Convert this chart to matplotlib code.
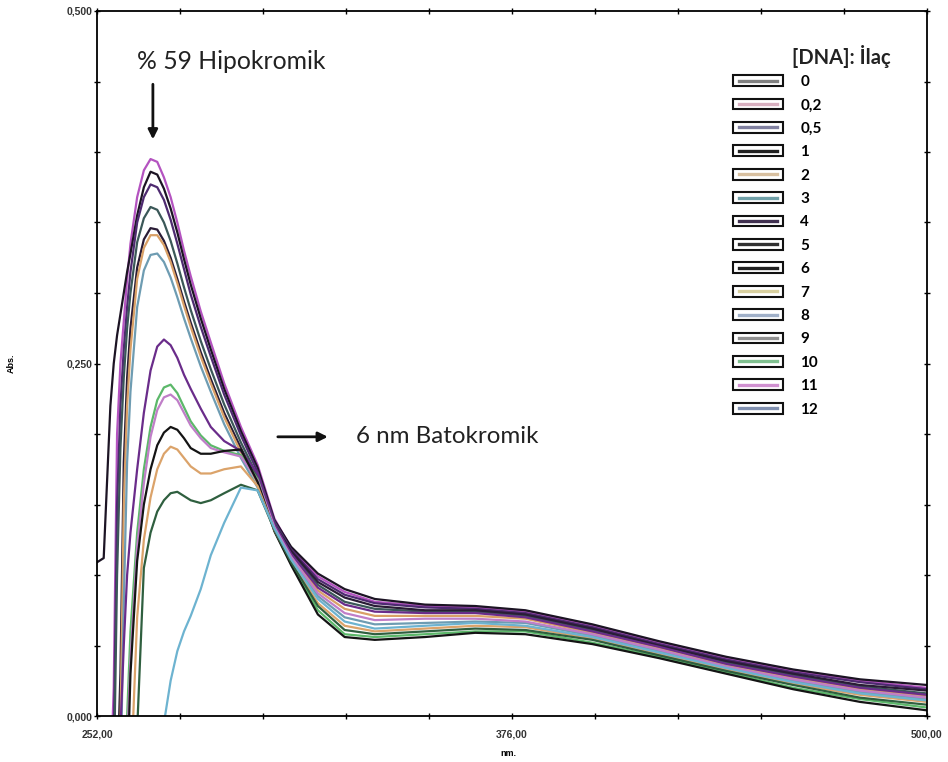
import matplotlib
matplotlib.use("Agg")
import matplotlib.pyplot as plt
from matplotlib.lines import Line2D
from matplotlib.patches import Rectangle
from matplotlib.legend_handler import HandlerBase
from matplotlib.ticker import FixedLocator
import numpy as np

# ---------------- data ----------------
wavelength = [252, 254, 256, 257, 258, 259, 260, 261, 262, 264, 266, 268, 270, 272,
              274, 276, 278, 280, 283, 286, 290, 295, 300, 305,
              310, 318, 326, 335, 350, 365, 380, 400, 420, 440, 460, 480, 500]

curve_a = [-0.05, -0.05, -0.05, 0.02, 0.20, 0.25, 0.28, 0.31, 0.335, 0.368, 0.387, 0.395, 0.393, 0.382,
           0.368, 0.350, 0.330, 0.312, 0.287, 0.265, 0.236, 0.205, 0.178, 0.140,
           0.119, 0.099, 0.088, 0.081, 0.078, 0.077, 0.074, 0.064, 0.052, 0.041, 0.032, 0.025, 0.020]
curve_b = [0.109, 0.112, 0.22, 0.25, 0.27, 0.285, 0.30, 0.315, 0.328, 0.355, 0.375, 0.386, 0.384, 0.374,
           0.360, 0.343, 0.324, 0.306, 0.282, 0.260, 0.232, 0.202, 0.176, 0.139,
           0.120, 0.101, 0.090, 0.083, 0.079, 0.078, 0.075, 0.065, 0.053, 0.042, 0.033, 0.026, 0.022]
curve_c = [-0.05, -0.05, -0.05, -0.02, 0.15, 0.22, 0.26, 0.29, 0.315, 0.350, 0.368, 0.377, 0.375, 0.366,
           0.352, 0.335, 0.317, 0.299, 0.276, 0.255, 0.228, 0.199, 0.173, 0.138,
           0.118, 0.097, 0.086, 0.080, 0.077, 0.076, 0.073, 0.063, 0.051, 0.040, 0.031, 0.024, 0.019]
curve_d = [-0.05, -0.05, -0.05, -0.05, 0.10, 0.19, 0.24, 0.275, 0.30, 0.336, 0.353, 0.361, 0.359, 0.350,
           0.337, 0.321, 0.304, 0.288, 0.266, 0.246, 0.221, 0.194, 0.170, 0.137,
           0.116, 0.093, 0.081, 0.076, 0.074, 0.074, 0.071, 0.061, 0.049, 0.038, 0.029, 0.021, 0.016]
curve_e = [-0.05, -0.05, -0.05, -0.05, -0.05, 0.03, 0.18, 0.24, 0.275, 0.318, 0.338, 0.346, 0.345, 0.337,
           0.325, 0.310, 0.294, 0.279, 0.258, 0.239, 0.215, 0.190, 0.167, 0.136,
           0.117, 0.095, 0.084, 0.078, 0.075, 0.075, 0.072, 0.062, 0.050, 0.039, 0.030, 0.022, 0.018]
curve_f = [-0.05, -0.05, -0.05, -0.05, -0.05, -0.01, 0.15, 0.22, 0.26, 0.310, 0.332, 0.341, 0.341, 0.334,
           0.322, 0.307, 0.291, 0.276, 0.255, 0.236, 0.212, 0.187, 0.165, 0.135,
           0.114, 0.089, 0.076, 0.071, 0.071, 0.071, 0.069, 0.059, 0.048, 0.036, 0.027, 0.019, 0.014]
curve_g = [-0.05, -0.05, -0.05, -0.05, -0.05, -0.05, 0.08, 0.18, 0.23, 0.290, 0.316, 0.327, 0.328, 0.322,
           0.311, 0.297, 0.282, 0.268, 0.248, 0.230, 0.207, 0.183, 0.162, 0.134,
           0.112, 0.085, 0.070, 0.065, 0.066, 0.067, 0.066, 0.057, 0.046, 0.035, 0.025, 0.017, 0.012]
curve_p = [-0.05, -0.05, -0.05, -0.05, -0.05, -0.01, 0.05, 0.10, 0.13, 0.175, 0.215, 0.245, 0.262, 0.267,
           0.263, 0.254, 0.242, 0.232, 0.218, 0.205, 0.195, 0.188, 0.172, 0.136,
           0.115, 0.091, 0.079, 0.074, 0.073, 0.073, 0.070, 0.060, 0.049, 0.037, 0.028, 0.020, 0.015]
curve_q = [-0.05, -0.05, -0.05, -0.05, -0.05, -0.05, -0.05, 0.0, 0.06, 0.130, 0.175, 0.205, 0.224, 0.233,
           0.235, 0.229, 0.219, 0.209, 0.199, 0.192, 0.188, 0.185, 0.168, 0.132,
           0.108, 0.075, 0.058, 0.056, 0.058, 0.060, 0.060, 0.052, 0.042, 0.031, 0.020, 0.012, 0.006]
curve_r = [-0.05, -0.05, -0.05, -0.05, -0.05, -0.05, -0.05, -0.02, 0.04, 0.120, 0.165, 0.198, 0.217, 0.226,
           0.228, 0.224, 0.215, 0.206, 0.197, 0.190, 0.187, 0.184, 0.167, 0.134,
           0.113, 0.087, 0.073, 0.068, 0.069, 0.069, 0.067, 0.058, 0.047, 0.035, 0.026, 0.018, 0.013]
curve_s = [-0.05, -0.05, -0.05, -0.05, -0.05, -0.05, -0.05, -0.05, 0.03, 0.110, 0.150, 0.175, 0.192, 0.201,
           0.205, 0.203, 0.197, 0.190, 0.186, 0.186, 0.188, 0.189, 0.166, 0.131,
           0.107, 0.072, 0.056, 0.054, 0.056, 0.059, 0.058, 0.051, 0.041, 0.030, 0.019, 0.010, 0.004]
curve_t = [-0.05, -0.05, -0.05, -0.05, -0.05, -0.05, -0.05, -0.05, -0.05, 0.070, 0.125, 0.155, 0.175, 0.186,
           0.191, 0.189, 0.183, 0.177, 0.172, 0.172, 0.175, 0.177, 0.163, 0.132,
           0.110, 0.080, 0.064, 0.060, 0.062, 0.064, 0.063, 0.055, 0.044, 0.033, 0.023, 0.015, 0.010]
curve_u = [-0.05, -0.05, -0.05, -0.05, -0.05, -0.05, -0.05, -0.05, -0.05, -0.01, 0.105, 0.130, 0.145, 0.153,
           0.158, 0.159, 0.156, 0.153, 0.151, 0.153, 0.158, 0.164, 0.160, 0.132,
           0.109, 0.078, 0.061, 0.058, 0.060, 0.062, 0.061, 0.054, 0.043, 0.032, 0.022, 0.013, 0.008]
curve_v = [-0.05, -0.05, -0.05, -0.05, -0.05, -0.05, -0.05, -0.05, -0.05, -0.05, -0.05, -0.05, -0.05, -0.005,
           0.025, 0.046, 0.060, 0.071, 0.090, 0.114, 0.137, 0.162, 0.160, 0.133,
           0.111, 0.083, 0.067, 0.062, 0.064, 0.066, 0.064, 0.056, 0.045, 0.034, 0.024, 0.016, 0.011]

curves = [curve_a, curve_b, curve_c, curve_d, curve_e, curve_f, curve_g,
          curve_p, curve_q, curve_r, curve_s, curve_t, curve_u, curve_v]
curve_colors = ['#b453c0', '#1c1424', '#4e2a70', '#3b5858', '#2a1c36', '#d9a066', '#6e9cb2',
                '#6a2c8a', '#5cb86a', '#c07ec8', '#141414', '#dba36a', '#2f5f3f', '#6db3d0']

legend_labels = ['0', '0,2', '0,5', '1', '2', '3', '4', '5', '6', '7', '8', '9', '10', '11', '12']
legend_colors = ['#808080', '#d8b0c0', '#8080a0', '#202020', '#d8c0a0', '#70a0a8', '#403050',
                 '#303030', '#202020', '#d8d0a0', '#a0b0c8', '#909090', '#80c090', '#d090d0', '#8090b0']

x_tick_labels = ['252,00', '376,00', '500,00']
y_tick_labels = ['0,000', '0,250', '0,500']

# ---------------- figure ----------------
W, H = 948, 762
fig = plt.figure(figsize=(W / 100, H / 100), dpi=100)
ax = fig.add_axes([97 / W, 1 - 716 / H, 830 / W, 705 / H])

for ys, c in zip(curves, curve_colors):
    ax.plot(wavelength, ys, color=c, lw=1.6, solid_joinstyle='round')

ax.set_xlim(252, 500)
ax.set_ylim(0, 0.5)

ax.xaxis.set_major_locator(FixedLocator([252, 376, 500]))
ax.xaxis.set_minor_locator(FixedLocator(list(np.linspace(252, 500, 11))))
ax.yaxis.set_major_locator(FixedLocator([0, 0.25, 0.5]))
ax.yaxis.set_minor_locator(FixedLocator(list(np.linspace(0, 0.5, 11))))
ax.set_xticklabels(x_tick_labels)
ax.set_yticklabels(y_tick_labels)
ax.tick_params(which='both', direction='inout', length=4, width=1.0, top=True, right=True)
ax.tick_params(axis='both', labelsize=7.5)
for lab in ax.get_xticklabels() + ax.get_yticklabels():
    lab.set_fontfamily('Liberation Sans')
    lab.set_fontweight('bold')
    lab.set_color('#333333')
ax.tick_params(axis='x', pad=8)
ax.tick_params(axis='y', pad=1)
for sp in ax.spines.values():
    sp.set_linewidth(1.3)

ax.set_xlabel('nm.', fontsize=6.5, fontweight='bold', family='Liberation Sans')
ax.xaxis.set_label_coords(0.496, -0.047)
ax.set_ylabel('Abs.', fontsize=6.5, fontweight='bold', family='Liberation Sans')
ax.yaxis.set_label_coords(-0.098, 0.5)

# annotations
ax.text(264.0, 0.464, '% 59 Hipokromik', fontsize=17.8, family='Lato', va='center', ha='left',
        color='#222222')
ax.annotate('', xy=(268.7, 0.407), xytext=(268.7, 0.450),
            arrowprops=dict(arrowstyle='-|>', color='#111111', lw=2.0, mutation_scale=14))
ax.annotate('', xy=(321.8, 0.198), xytext=(305.2, 0.198),
            arrowprops=dict(arrowstyle='-|>', color='#111111', lw=2.0, mutation_scale=14))
ax.text(329.5, 0.198, '6 nm Batokromik', fontsize=17.4, family='Lato', va='center', ha='left',
        color='#222222')


# legend
class BoxLineHandler(HandlerBase):
    def create_artists(self, legend, orig_handle, xdescent, ydescent, width, height,
                       fontsize, trans):
        rect = Rectangle((-xdescent, -ydescent), width, height,
                         facecolor='white', edgecolor='#111111', lw=1.5, transform=trans)
        line = Line2D([-xdescent + width * 0.12, -xdescent + width * 0.88],
                      [-ydescent + height / 2] * 2, color=orig_handle.get_color(),
                      lw=2.4, transform=trans)
        return [rect, line]


handles = [Line2D([], [], color=c) for c in legend_colors]
leg = fig.legend(handles, legend_labels, handler_map={Line2D: BoxLineHandler()},
                 loc='upper left', bbox_to_anchor=(733 / W, 1 - 75 / H),
                 bbox_transform=fig.transFigure, frameon=False,
                 borderpad=0, borderaxespad=0, handlelength=3.3, handleheight=0.7,
                 handletextpad=1.1, labelspacing=0.615,
                 prop={'family': 'Lato', 'weight': 'bold', 'size': 11})
fig.text(841 / W, 1 - 57 / H, '[DNA]: İlaç', ha='center', va='center',
         fontsize=14.5, family='Lato', fontweight='bold', color='#222222')

fig.savefig('out.png', dpi=100)
